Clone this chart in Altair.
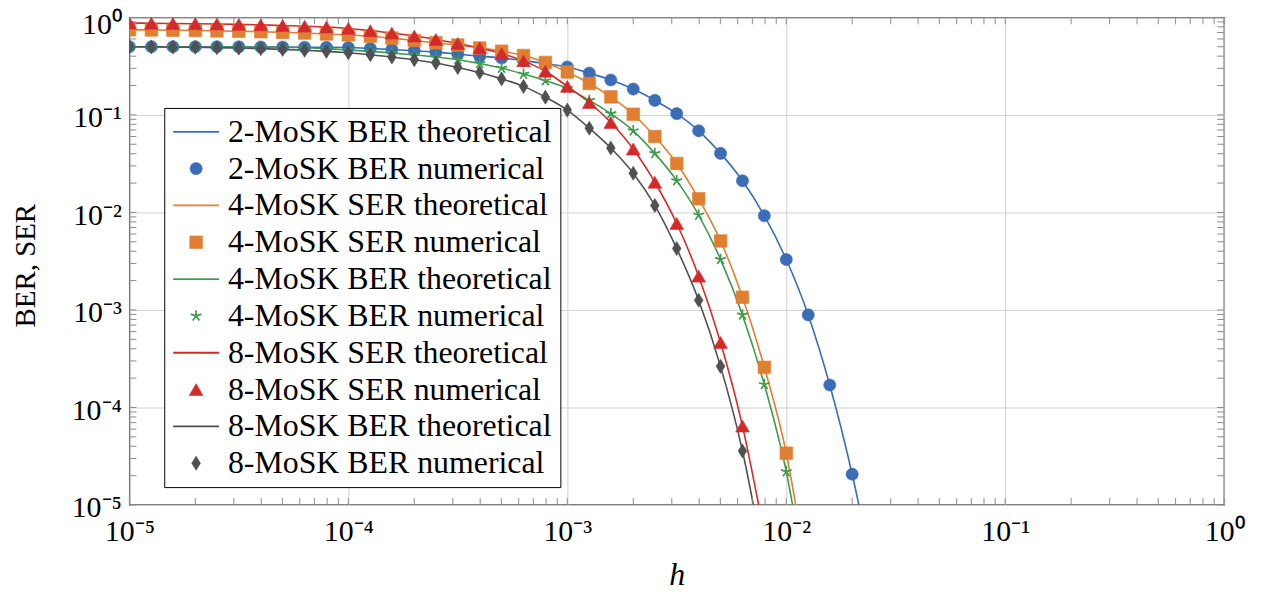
import json
import altair as alt
import pandas as pd

FONT = "Liberation Serif"

# sampled h values (0.1-decade steps from 1e-5)
h_values = [1.00e-5, 1.26e-5, 1.58e-5, 2.00e-5, 2.51e-5, 3.16e-5, 3.98e-5, 5.01e-5, 6.31e-5, 7.94e-5,
            1.00e-4, 1.26e-4, 1.58e-4, 2.00e-4, 2.51e-4, 3.16e-4, 3.98e-4, 5.01e-4, 6.31e-4, 7.94e-4,
            1.00e-3, 1.26e-3, 1.58e-3, 2.00e-3, 2.51e-3, 3.16e-3, 3.98e-3, 5.01e-3, 6.31e-3, 7.94e-3,
            1.00e-2, 1.26e-2, 1.58e-2, 2.00e-2, 2.51e-2]

# numerical markers
ber_2mosk = [0.500, 0.500, 0.500, 0.499, 0.499, 0.498, 0.497, 0.496, 0.494, 0.493,
             0.490, 0.480, 0.468, 0.455, 0.440, 0.420, 0.400, 0.383, 0.360, 0.335,
             0.310, 0.268, 0.228, 0.184, 0.141, 0.103, 0.0687, 0.0403, 0.0211, 0.00925,
             0.00329, 0.00089, 1.70e-4, 2.07e-5]
ser_4mosk = [0.745, 0.742, 0.738, 0.733, 0.727, 0.720, 0.712, 0.702, 0.690, 0.676,
             0.660, 0.640, 0.612, 0.580, 0.548, 0.520, 0.486, 0.450, 0.406, 0.345,
             0.275, 0.210, 0.153, 0.1016, 0.060, 0.0318, 0.0138, 0.0051, 0.00135, 2.58e-4,
             3.4e-5]
ber_4mosk = [0.500, 0.500, 0.499, 0.499, 0.498, 0.497, 0.496, 0.494, 0.488, 0.478,
             0.462, 0.448, 0.432, 0.412, 0.392, 0.368, 0.337, 0.302, 0.262, 0.224,
             0.187, 0.141, 0.103, 0.0687, 0.0403, 0.0212, 0.0094, 0.0033, 8.9e-4, 1.72e-4,
             2.2e-5]
ser_8mosk = [0.875, 0.870, 0.866, 0.861, 0.855, 0.847, 0.838, 0.826, 0.812, 0.795,
             0.770, 0.730, 0.690, 0.643, 0.593, 0.540, 0.486, 0.425, 0.358, 0.280,
             0.196, 0.134, 0.0835, 0.0447, 0.0204, 0.0077, 0.00222, 4.64e-4, 6.45e-5]
ber_8mosk = [0.500, 0.498, 0.496, 0.493, 0.489, 0.484, 0.478, 0.470, 0.460, 0.448,
             0.433, 0.414, 0.392, 0.368, 0.340, 0.306, 0.272, 0.234, 0.196, 0.152,
             0.112, 0.0731, 0.0457, 0.0252, 0.0118, 0.00426, 0.00126, 2.64e-4, 3.58e-5]

# theoretical curves continue below the axis (value at the next h step)
tail_2mosk_ber = 1.8e-6
tail_4mosk_ser = 1.6e-6
tail_4mosk_ber = 1.1e-6
tail_8mosk_ser = 5.0e-6
tail_8mosk_ber = 2.5e-6

series_names = ["2-MoSK BER theoretical", "2-MoSK BER numerical",
                "4-MoSK SER theoretical", "4-MoSK SER numerical",
                "4-MoSK BER theoretical", "4-MoSK BER numerical",
                "8-MoSK SER theoretical", "8-MoSK SER numerical",
                "8-MoSK BER theoretical", "8-MoSK BER numerical"]
series_colors = ["#3b6db6", "#3b6db6", "#e07f31", "#e07f31", "#3e9c4c", "#3e9c4c",
                 "#d42a2c", "#d42a2c", "#505050", "#505050"]
STAR = "M0,0L0,-1M0,0L0.951,-0.309M0,0L0.588,0.809M0,0L-0.588,0.809M0,0L-0.951,-0.309"
DIAMOND = "M0,-1L0.62,0L0,1L-0.62,0Z"
series_shapes = ["stroke", "circle", "stroke", "square", "stroke", STAR,
                 "stroke", "triangle-up", "stroke", DIAMOND]
series_sizes = [2116, 150, 2116, 160, 2116, 130, 2116, 190, 2116, 200]
series_widths = [1.8, 0.6, 1.8, 0.6, 1.8, 1.7, 1.8, 0.6, 1.8, 0.6]

x_tick_labels = ["10⁻⁵", "10⁻⁴", "10⁻³", "10⁻²", "10⁻¹", "10⁰"]
y_tick_labels = ["10⁻⁵", "10⁻⁴", "10⁻³", "10⁻²", "10⁻¹", "10⁰"]
decades = [1e-5, 1e-4, 1e-3, 1e-2, 1e-1, 1e0]

curves = [
    (series_names[0], series_names[1], ber_2mosk, tail_2mosk_ber),
    (series_names[2], series_names[3], ser_4mosk, tail_4mosk_ser),
    (series_names[4], series_names[5], ber_4mosk, tail_4mosk_ber),
    (series_names[6], series_names[7], ser_8mosk, tail_8mosk_ser),
    (series_names[8], series_names[9], ber_8mosk, tail_8mosk_ber),
]

line_rows, point_rows = [], []
for theo, num, vals, tail in curves:
    for h, v in zip(h_values[:len(vals) + 1], vals + [tail]):
        line_rows.append({"h": h, "v": v, "curve": theo})
    for h, v in zip(h_values[:len(vals)], vals):
        point_rows.append({"h": h, "v": v, "series": num})
line_df = pd.DataFrame(line_rows)
point_df = pd.DataFrame(point_rows)

minor = [m * d for d in decades[:-1] for m in range(1, 10)] + [1.0]
xt_df = pd.DataFrame({"h": minor})
yt_df = pd.DataFrame({"v": minor})

W, H = 1100, 490
TICK = "#8c8c8c"

x_scale = alt.Scale(type="log", domain=[1e-5, 1], nice=False)
y_scale = alt.Scale(type="log", domain=[1e-5, 1], nice=False)

x_axis = alt.Axis(values=decades,
                  labelExpr=json.dumps(x_tick_labels, ensure_ascii=False) + "[round(log(datum.value)/LN10)+5]",
                  grid=True, gridColor="#d2d2d2", gridWidth=1, ticks=False, domain=False,
                  labelFont=FONT, labelFontSize=30, labelColor="black", labelPadding=12,
                  labelFlush=False, labelOverlap=False,
                  title="h", titleFont=FONT, titleFontStyle="italic", titleFontWeight="normal",
                  titleFontSize=32, titleColor="black", titleY=80, titleBaseline="alphabetic")
y_axis = alt.Axis(values=decades,
                  labelExpr=json.dumps(y_tick_labels, ensure_ascii=False) + "[round(log(datum.value)/LN10)+5]",
                  grid=True, gridColor="#d2d2d2", gridWidth=1, ticks=False, domain=False,
                  labelFont=FONT, labelFontSize=30, labelColor="black", labelPadding=8,
                  labelOffset=alt.condition("datum.value == 1", alt.value(7), alt.value(3)),
                  labelFlush=False, labelOverlap=False,
                  title="BER, SER", titleFont=FONT, titleFontWeight="normal", titleFontSize=29,
                  titleColor="black", titleX=-95, titleY=249, titleAngle=-90,
                  titleAlign="center", titleBaseline="alphabetic")

theo_names = [c[0] for c in curves]
theo_colors = [series_colors[series_names.index(n)] for n in theo_names]

lines = alt.Chart(line_df).mark_line(clip=True, strokeWidth=1.6, interpolate="monotone").encode(
    x=alt.X("h:Q", scale=x_scale, axis=x_axis),
    y=alt.Y("v:Q", scale=y_scale, axis=y_axis),
    color=alt.Color("curve:N", scale=alt.Scale(domain=theo_names, range=theo_colors), legend=None),
    order="h:Q",
)

legend = alt.Legend(title=None, orient="none", legendX=35, legendY=91,
                    fillColor="white", strokeColor="black", padding=8,
                    labelFont=FONT, labelFontSize=32, labelColor="black", labelOffset=8,
                    labelLimit=800, rowPadding=5, clipHeight=32, symbolOpacity=1)

points = alt.Chart(point_df).mark_point(opacity=1, clip=True).encode(
    x=alt.X("h:Q"),
    y=alt.Y("v:Q"),
    fill=alt.Fill("series:N", scale=alt.Scale(domain=series_names, range=series_colors), legend=legend),
    stroke=alt.Stroke("series:N", scale=alt.Scale(domain=series_names, range=series_colors), legend=legend),
    shape=alt.Shape("series:N", scale=alt.Scale(domain=series_names, range=series_shapes), legend=legend),
    size=alt.Size("series:N", scale=alt.Scale(type="ordinal", domain=series_names, range=series_sizes), legend=legend),
    strokeWidth=alt.StrokeWidth("series:N", scale=alt.Scale(type="ordinal", domain=series_names, range=series_widths), legend=legend),
)

tick_len = 7
ticks_bottom = alt.Chart(xt_df).mark_rule(color=TICK, strokeWidth=1).encode(
    x=alt.X("h:Q"), y=alt.value(H), y2=alt.value(H - tick_len))
ticks_top = alt.Chart(xt_df).mark_rule(color=TICK, strokeWidth=1).encode(
    x=alt.X("h:Q"), y=alt.value(0), y2=alt.value(tick_len))
ticks_left = alt.Chart(yt_df).mark_rule(color=TICK, strokeWidth=1).encode(
    y=alt.Y("v:Q"), x=alt.value(0), x2=alt.value(tick_len))
ticks_right = alt.Chart(yt_df).mark_rule(color=TICK, strokeWidth=1).encode(
    y=alt.Y("v:Q"), x=alt.value(W), x2=alt.value(W - tick_len))

chart = alt.layer(lines, ticks_bottom, ticks_top, ticks_left, ticks_right, points).properties(
    width=W, height=H,
    background="white",
    autosize=alt.AutoSizeParams(type="none"),
    padding={"left": 122, "top": 8, "right": 34, "bottom": 88},
).configure_view(
    stroke="black", strokeWidth=1.3
).configure_axis(
    labelFont=FONT, titleFont=FONT
).configure_legend(
    labelFont=FONT, labelFontSize=32, labelColor="black"
)

chart.save("out.html", embed_options={"renderer": "svg", "actions": False})
